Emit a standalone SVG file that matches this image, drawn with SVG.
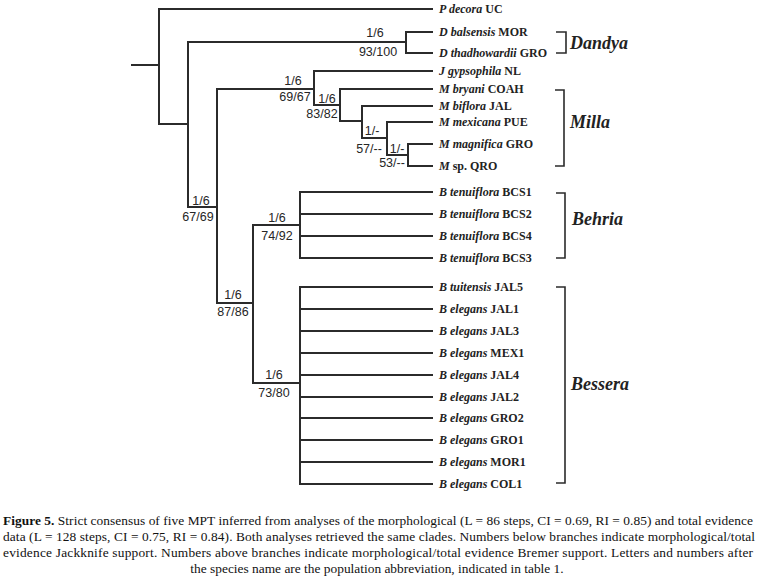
<svg xmlns="http://www.w3.org/2000/svg" width="758" height="579" viewBox="0 0 758 579">
<style>
.br{stroke:#2b2b2b;stroke-width:2;fill:none;stroke-linecap:square}
.bk{stroke:#2b2b2b;stroke-width:1.6;fill:none}
.tip{font-family:"Liberation Serif",serif;font-size:12px;font-weight:bold;fill:#222}
.i{font-style:italic}
.sup{font-family:"Liberation Sans",Arial,sans-serif;font-size:12.5px;fill:#262626;text-anchor:middle}
.clade{font-family:"Liberation Serif",serif;font-size:18px;font-weight:bold;font-style:italic;fill:#222}
.cap{font-family:"Liberation Serif",serif;font-size:13.4px;fill:#111}
</style>
<rect width="758" height="579" fill="#fff"/>
<g id="connectors">
<path class="br" d="M132 65H159M159 9V124M159 9H432M159 124H188"/>
<path class="br" d="M188 42V207M188 42H406M406 32V53M406 32H432M406 53H432M188 207H217"/>
<path class="br" d="M217 89V303M217 89H314M314 71V105M314 71H432M314 105H340M340 89V121M340 89H432M340 121H362M362 106V138M362 106H432M362 138H387M387 122V155M387 122H432M387 155H408M408 144V166M408 144H432M408 166H432"/>
<path class="br" d="M217 303H253M253 225V383M253 225H300M300 192V258M300 192H432M300 214H432M300 236H432M300 258H432"/>
<path class="br" d="M253 383H300M300 287V484M300 287H432M300 309H432M300 331H432M300 353H432M300 375H432M300 397H432M300 418H432M300 440H432M300 462H432M300 484H432"/>
</g>
<g id="support">
<text class="sup" x="375" y="37">1/6</text><text class="sup" x="378" y="56">93/100</text>
<text class="sup" x="293" y="85">1/6</text><text class="sup" x="295" y="101">69/67</text>
<text class="sup" x="327" y="103">1/6</text><text class="sup" x="322" y="118">83/82</text>
<text class="sup" x="372" y="135">1/-</text><text class="sup" x="369" y="153">57/--</text>
<text class="sup" x="397" y="153">1/-</text><text class="sup" x="392" y="167">53/--</text>
<text class="sup" x="201" y="205">1/6</text><text class="sup" x="198" y="221">67/69</text>
<text class="sup" x="277" y="222">1/6</text><text class="sup" x="277" y="240">74/92</text>
<text class="sup" x="233" y="299">1/6</text><text class="sup" x="233" y="316">87/86</text>
<text class="sup" x="274" y="379">1/6</text><text class="sup" x="274" y="397">73/80</text>
</g>
<g id="tips">
<text class="tip" x="439" y="13"><tspan class="i">P decora</tspan> UC</text>
<text class="tip" x="439" y="36"><tspan class="i">D balsensis</tspan> MOR</text>
<text class="tip" x="439" y="57"><tspan class="i">D thadhowardii</tspan> GRO</text>
<text class="tip" x="439" y="75"><tspan class="i">J gypsophila</tspan> NL</text>
<text class="tip" x="439" y="93"><tspan class="i">M bryani</tspan> COAH</text>
<text class="tip" x="439" y="110"><tspan class="i">M biflora</tspan> JAL</text>
<text class="tip" x="439" y="126"><tspan class="i">M mexicana</tspan> PUE</text>
<text class="tip" x="439" y="148"><tspan class="i">M magnifica</tspan> GRO</text>
<text class="tip" x="439" y="170"><tspan class="i">M</tspan> sp. QRO</text>
<text class="tip" x="439" y="196"><tspan class="i">B tenuiflora</tspan> BCS1</text>
<text class="tip" x="439" y="218"><tspan class="i">B tenuiflora</tspan> BCS2</text>
<text class="tip" x="439" y="240"><tspan class="i">B tenuiflora</tspan> BCS4</text>
<text class="tip" x="439" y="262"><tspan class="i">B tenuiflora</tspan> BCS3</text>
<text class="tip" x="439" y="291"><tspan class="i">B tuitensis</tspan> JAL5</text>
<text class="tip" x="439" y="313"><tspan class="i">B elegans</tspan> JAL1</text>
<text class="tip" x="439" y="335"><tspan class="i">B elegans</tspan> JAL3</text>
<text class="tip" x="439" y="357"><tspan class="i">B elegans</tspan> MEX1</text>
<text class="tip" x="439" y="379"><tspan class="i">B elegans</tspan> JAL4</text>
<text class="tip" x="439" y="401"><tspan class="i">B elegans</tspan> JAL2</text>
<text class="tip" x="439" y="422"><tspan class="i">B elegans</tspan> GRO2</text>
<text class="tip" x="439" y="444"><tspan class="i">B elegans</tspan> GRO1</text>
<text class="tip" x="439" y="466"><tspan class="i">B elegans</tspan> MOR1</text>
<text class="tip" x="439" y="488"><tspan class="i">B elegans</tspan> COL1</text>
</g>
<g id="clade-dandya">
<path class="bk" d="M556 32H566V53H556"/>
<text class="clade" x="570" y="49">Dandya</text>
</g>
<g id="clade-milla">
<path class="bk" d="M555 90H564V166H555"/>
<text class="clade" x="570" y="128">Milla</text>
</g>
<g id="clade-behria">
<path class="bk" d="M556 193H565V258H556"/>
<text class="clade" x="572" y="225">Behria</text>
</g>
<g id="clade-bessera">
<path class="bk" d="M556 287H565V483H556"/>
<text class="clade" x="571" y="390">Bessera</text>
</g>
<g id="caption">
<text class="cap" x="3" y="525" textLength="750" lengthAdjust="spacing"><tspan font-weight="bold">Figure 5.</tspan> Strict consensus of five MPT inferred from analyses of the morphological (L = 86 steps, CI = 0.69, RI = 0.85) and total evidence</text>
<text class="cap" x="3" y="541" textLength="752" lengthAdjust="spacing">data (L = 128 steps, CI = 0.75, RI = 0.84). Both analyses retrieved the same clades. Numbers below branches indicate morphological/total</text>
<text class="cap" x="3" y="557" textLength="750" lengthAdjust="spacing">evidence Jackknife support. Numbers above branches indicate morphological/total evidence Bremer support. Letters and numbers after</text>
<text class="cap" x="377" y="573" text-anchor="middle">the species name are the population abbreviation, indicated in table 1.</text>
</g>
</svg>
